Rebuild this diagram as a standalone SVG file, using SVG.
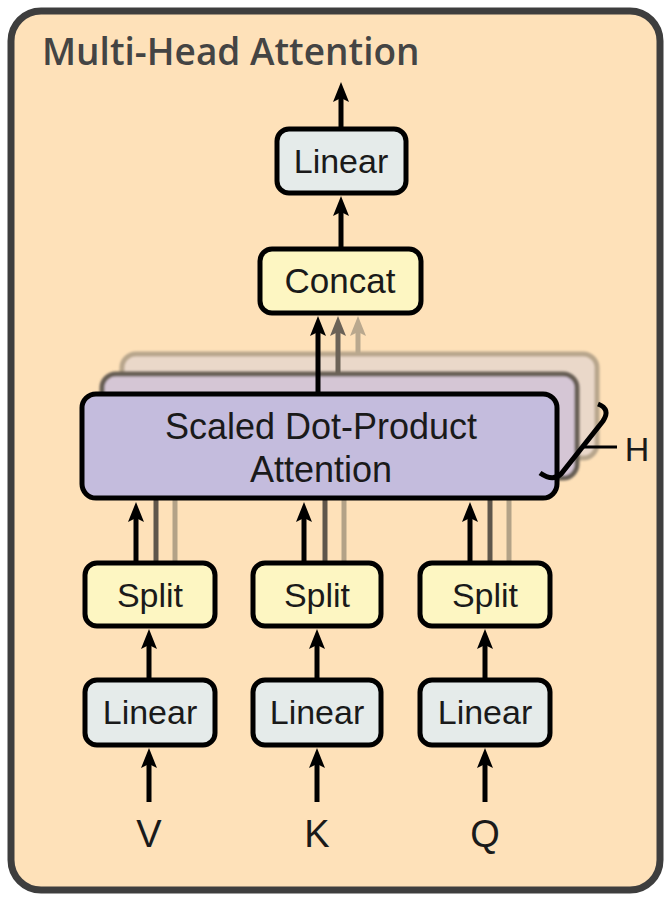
<svg xmlns="http://www.w3.org/2000/svg" width="669" height="899" viewBox="0 0 669 899">
<defs>
<style>
.lbl{font-family:"Liberation Sans",Arial,sans-serif;font-size:34px;fill:#1a1a1a;text-anchor:middle}
.box{stroke:#000;stroke-width:5}
.lin{fill:#E5EBEA}
.yel{fill:#FDF6C2}
.arr{stroke:#000;stroke-width:5;fill:none;marker-end:url(#ah)}
</style>
<marker id="ah" viewBox="0 0 20 16" refX="10" refY="8" markerWidth="20" markerHeight="16" markerUnits="userSpaceOnUse" orient="auto"><path d="M0,0 L20,8 L0,16 L4,8 z" fill="#000"/></marker>
<marker id="ah2" viewBox="0 0 20 16" refX="10" refY="8" markerWidth="20" markerHeight="16" markerUnits="userSpaceOnUse" orient="auto"><path d="M0,0 L20,8 L0,16 L4,8 z" fill="#6B6257"/></marker>
<marker id="ah3" viewBox="0 0 20 16" refX="10" refY="8" markerWidth="20" markerHeight="16" markerUnits="userSpaceOnUse" orient="auto"><path d="M0,0 L20,8 L0,16 L4,8 z" fill="#B9A88E"/></marker>
<filter id="soft" x="-5%" y="-10%" width="110%" height="120%"><feGaussianBlur stdDeviation="1.2"/></filter>
</defs>
<g id="frame">
<rect x="11" y="11" width="649" height="879" rx="30" fill="#FEE1B9" stroke="#3E3E3E" stroke-width="7"/>
<text x="42" y="65" font-family="'Open Sans',sans-serif" font-weight="600" font-size="37" fill="#444">Multi-Head Attention</text>
</g>
<g id="attn-back2" filter="url(#soft)">
<rect x="122" y="354" width="475" height="104" rx="14" fill="#EAD8C9" stroke="#B8A68C" stroke-width="5"/>
</g>
<g id="attn-back1" filter="url(#soft)">
<rect x="102" y="374" width="475" height="104" rx="14" fill="#D5C6D5" stroke="#675E55" stroke-width="5"/>
</g>
<g id="connectors">
<line x1="358" y1="354" x2="358" y2="326" stroke="#B9A88E" stroke-width="5" marker-end="url(#ah3)"/>
<line x1="338" y1="374" x2="338" y2="326" stroke="#6B6257" stroke-width="5" marker-end="url(#ah2)"/>
<line class="arr" x1="318" y1="394" x2="318" y2="326"/>
<line class="arr" x1="341" y1="247" x2="341" y2="206"/>
<line class="arr" x1="341" y1="127" x2="341" y2="92"/>
<line x1="156" y1="561" x2="156" y2="500" stroke="#5F564B" stroke-width="5"/>
<line x1="175" y1="561" x2="175" y2="500" stroke="#B3A287" stroke-width="5"/>
<line x1="325" y1="561" x2="325" y2="500" stroke="#5F564B" stroke-width="5"/>
<line x1="344" y1="561" x2="344" y2="500" stroke="#B3A287" stroke-width="5"/>
<line x1="490" y1="561" x2="490" y2="500" stroke="#5F564B" stroke-width="5"/>
<line x1="509" y1="561" x2="509" y2="500" stroke="#B3A287" stroke-width="5"/>
<line class="arr" x1="136" y1="561" x2="136" y2="512"/>
<line class="arr" x1="304" y1="561" x2="304" y2="512"/>
<line class="arr" x1="470" y1="561" x2="470" y2="512"/>
<line class="arr" x1="149" y1="678" x2="149" y2="639"/>
<line class="arr" x1="317" y1="678" x2="317" y2="639"/>
<line class="arr" x1="485" y1="678" x2="485" y2="639"/>
<line class="arr" x1="149" y1="802" x2="149" y2="758"/>
<line class="arr" x1="317" y1="802" x2="317" y2="758"/>
<line class="arr" x1="485" y1="802" x2="485" y2="758"/>
</g>
<g id="attn">
<rect class="box" x="82" y="394" width="475" height="104" rx="14" fill="#C4BCDD"/>
<text class="lbl" x="321" y="439" style="font-size:36px">Scaled Dot-Product</text>
<text class="lbl" x="321" y="482" style="font-size:36px">Attention</text>
</g>
<g id="heads-bracket">
<path d="M598,404 Q611,409 603,421 L561,474 Q553,482 540,473" fill="none" stroke="#000" stroke-width="5"/>
<line x1="582" y1="447" x2="617" y2="447" stroke="#000" stroke-width="3"/>
<text class="lbl" x="637" y="461">H</text>
</g>
<g id="linear-out">
<rect class="box lin" x="277" y="129" width="129" height="64" rx="12"/>
<text class="lbl" x="341" y="173">Linear</text>
</g>
<g id="concat">
<rect class="box yel" x="260" y="249" width="161" height="64" rx="12"/>
<text class="lbl" x="340" y="293" style="font-size:35px">Concat</text>
</g>
<g id="split-v">
<rect class="box yel" x="85" y="563" width="130" height="63" rx="12"/>
<text class="lbl" x="150" y="607">Split</text>
</g>
<g id="split-k">
<rect class="box yel" x="253" y="563" width="128" height="63" rx="12"/>
<text class="lbl" x="317" y="607">Split</text>
</g>
<g id="split-q">
<rect class="box yel" x="420" y="563" width="130" height="63" rx="12"/>
<text class="lbl" x="485" y="607">Split</text>
</g>
<g id="linear-v">
<rect class="box lin" x="85" y="680" width="130" height="65" rx="12"/>
<text class="lbl" x="150" y="724">Linear</text>
</g>
<g id="linear-k">
<rect class="box lin" x="253" y="680" width="128" height="65" rx="12"/>
<text class="lbl" x="317" y="724">Linear</text>
</g>
<g id="linear-q">
<rect class="box lin" x="420" y="680" width="130" height="65" rx="12"/>
<text class="lbl" x="485" y="724">Linear</text>
</g>
<g id="inputs">
<text class="lbl" x="149" y="847" style="font-size:38px">V</text>
<text class="lbl" x="317" y="847" style="font-size:38px">K</text>
<text class="lbl" x="485" y="847" style="font-size:38px">Q</text>
</g>
</svg>
